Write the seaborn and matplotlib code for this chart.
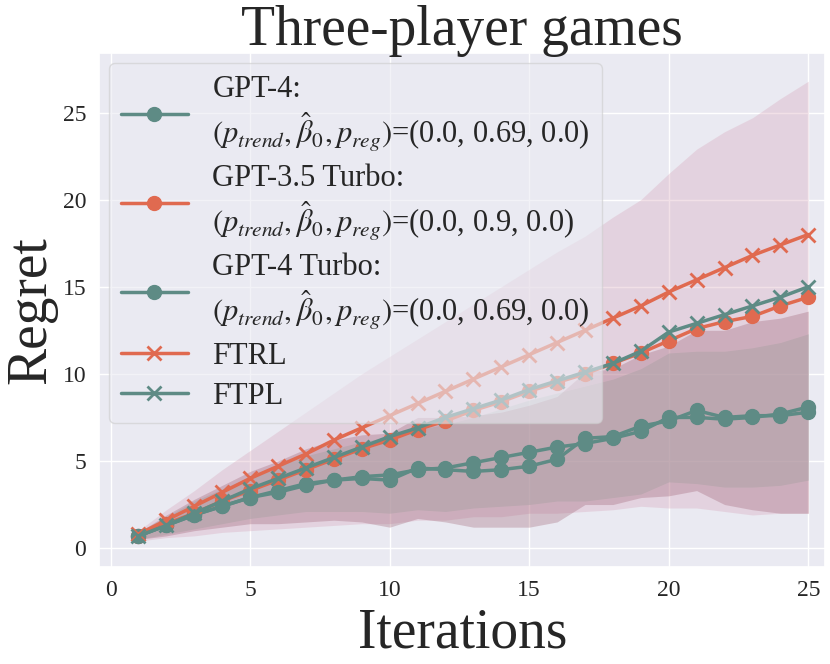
import numpy as np
import matplotlib
matplotlib.use("Agg")
import matplotlib.pyplot as plt
import seaborn as sns

iters = list(range(1, 26))
gpt4 = [0.7, 1.3, 1.9, 2.4, 2.9, 3.3, 3.7, 3.9, 4.1, 4.2, 4.5, 4.6, 4.9, 5.2, 5.5,
        5.8, 6.0, 6.3, 6.7, 7.5, 7.5, 7.4, 7.5, 7.7, 8.1]
gpt4_std = [0.2, 0.5, 0.8, 1.0, 1.2, 1.4, 1.6, 1.8, 2.0, 2.2, 2.3, 2.5, 2.6, 2.8, 3.0,
            3.1, 3.3, 3.4, 3.6, 3.7, 3.8, 3.9, 4.0, 4.1, 4.2]
gpt35 = [0.7, 1.4, 2.0, 2.7, 3.3, 3.9, 4.5, 5.1, 5.7, 6.2, 6.8, 7.3, 7.9, 8.4, 9.0,
         9.5, 10.0, 10.6, 11.2, 11.9, 12.6, 13.0, 13.3, 13.9, 14.4]
gpt35_std = [0.3, 0.8, 1.3, 1.8, 2.3, 2.8, 3.3, 3.8, 4.3, 4.8, 5.2, 5.7, 6.1, 6.6, 7.0,
             7.5, 7.9, 8.4, 8.8, 9.6, 10.3, 10.9, 11.4, 11.9, 12.4]
gpt4t = [0.7, 1.3, 1.9, 2.4, 2.9, 3.2, 3.6, 3.9, 4.0, 3.9, 4.6, 4.5, 4.4, 4.5, 4.7,
         5.1, 6.3, 6.4, 7.0, 7.3, 7.9, 7.5, 7.6, 7.6, 7.8]
gpt4t_std = [0.2, 0.6, 0.9, 1.2, 1.5, 1.8, 2.1, 2.3, 2.5, 2.7, 2.9, 3.0, 3.2, 3.3, 3.5,
             3.6, 3.8, 3.9, 4.1, 4.3, 4.6, 5.0, 5.4, 5.6, 5.8]
ftrl = [0.8, 1.6, 2.4, 3.2, 4.0, 4.7, 5.4, 6.2, 6.9, 7.6, 8.3, 9.0, 9.7, 10.4, 11.1,
        11.8, 12.5, 13.2, 13.9, 14.7, 15.4, 16.1, 16.8, 17.4, 18.0]
ftpl = [0.7, 1.3, 2.0, 2.7, 3.4, 4.0, 4.6, 5.2, 5.8, 6.4, 6.9, 7.5, 8.0, 8.5, 9.1,
        9.6, 10.1, 10.6, 11.3, 12.4, 12.9, 13.4, 13.9, 14.4, 15.0]

teal = "#5e8b85"
orange = "#e06a50"

sns.set_theme(style="darkgrid")
plt.rcParams["font.family"] = ["Liberation Serif", "DejaVu Serif"]
plt.rcParams["mathtext.fontset"] = "stix"

fig, ax = plt.subplots(figsize=(8.3, 6.64), dpi=100)
x = np.array(iters)

label_tail = r"$(p_{trend}, \hat{\beta}_0, p_{reg})$"
series = [
    (gpt4, gpt4_std, teal, "GPT-4:\n" + label_tail + "=(0.0, 0.69, 0.0)", "#a8d0c6", 0.55),
    (gpt35, gpt35_std, orange, "GPT-3.5 Turbo:\n" + label_tail + "=(0.0, 0.9, 0.0)", "#d8a8bc", 0.35),
    (gpt4t, gpt4t_std, teal, "GPT-4 Turbo:\n" + label_tail + "=(0.0, 0.69, 0.0)", "#9a5a6c", 0.3),
]
for m, s, c, lab, band, a in series:
    m = np.array(m); s = np.array(s)
    ax.fill_between(x, m - s, m + s, color=band, alpha=a, lw=0)
    ax.plot(x, m, marker="o", color=c, lw=2.5, ms=10, label=lab)

ax.plot(x, ftrl, marker="x", color=orange, lw=2.5, ms=10, mew=2, label="FTRL")
ax.plot(x, ftpl, marker="x", color=teal, lw=2.5, ms=10, mew=2, label="FTPL")

ax.set_xlim(-0.4, 25.6)
ax.set_ylim(-1.1, 28.4)
ax.set_xticks([0, 5, 10, 15, 20, 25])
ax.set_yticks([0, 5, 10, 15, 20, 25])
ax.tick_params(labelsize=17)
ax.set_title("Three-player games", fontsize=40)
ax.set_xlabel("Iterations", fontsize=40)
ax.set_ylabel("Regret", fontsize=40)
leg = ax.legend(loc="upper left", fontsize=22, framealpha=0.6, handlelength=2.2,
                labelspacing=0.35, borderaxespad=0.3)
leg.set_zorder(5)

plt.tight_layout(pad=0.3)
plt.savefig("out.png", dpi=100)
